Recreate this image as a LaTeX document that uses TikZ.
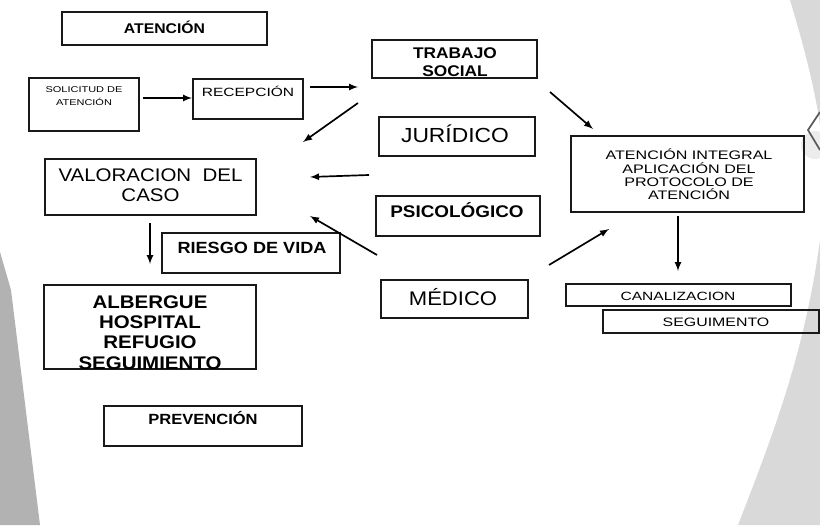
\documentclass[tikz,border=0pt]{standalone}
\usepackage{fontspec}
\setmainfont{Liberation Sans}[FakeStretch=1.12]
\newfontfamily\widefont{Liberation Sans}[FakeStretch=1.3]
\begin{document}
\begin{tikzpicture}[x=0.025cm,y=-0.025cm,
	box/.style={draw=black!90,line width=1.1pt,inner sep=0pt},
	arr/.style={->,>=latex,line width=1.2pt},
	txt/.style={align=center,inner sep=0pt}]
	\useasboundingbox (0,0) rectangle (820,525);
	\fill[gray!60] (0,252) -- (11,290) -- (40,525) -- (0,525) -- cycle;
	\fill[gray!30] (790,0) .. controls (805,50) and (815,90) .. (820,125) -- (820,0) -- cycle;
	\fill[gray!15] (815,145) ellipse (14 and 14);
	\draw[gray!70!black,line width=1.2pt] (820,112) -- (808,130) -- (820,150);
	\fill[gray!30] (820,240) .. controls (805,350) and (775,430) .. (738,525) -- (820,525) -- cycle;
	\node[box,minimum width=5.125cm,minimum height=0.825cm] (aten) at (164.5,28.5) {};
	\node[txt,font=\bfseries\fontsize{10}{12}\selectfont] (atenT) at (164.5,27) {ATENCIÓN};
	\node[box,minimum width=2.75cm,minimum height=1.325cm] (sol) at (84,104.5) {};
	\node[txt,font=\widefont\fontsize{6}{9}\selectfont] (solT) at (84,96) {SOLICITUD DE\\ATENCIÓN};
	\node[box,minimum width=2.75cm,minimum height=1cm] (rec) at (248,99) {};
	\node[txt,font=\widefont\fontsize{8.5}{11}\selectfont] (recT) at (248,91) {RECEPCIÓN};
	\node[box,minimum width=4.125cm,minimum height=0.95cm] (trab) at (454.5,59) {};
	\node[txt,font=\bfseries\fontsize{11}{12.8}\selectfont] (trabT) at (455,62) {TRABAJO\\SOCIAL};
	\node[box,minimum width=3.9cm,minimum height=0.975cm] (jur) at (457,136.5) {};
	\node[txt,font=\fontsize{14.5}{16}\selectfont] (jurT) at (455,134) {JURÍDICO};
	\node[box,minimum width=5.275cm,minimum height=1.4cm] (val) at (150.5,187) {};
	\node[txt,font=\fontsize{13}{14.2}\selectfont] (valT) at (150.5,185) {VALORACION\ \ DEL\\CASO};
	\node[box,minimum width=4.1cm,minimum height=1cm] (psi) at (458,216) {};
	\node[txt,font=\bfseries\fontsize{12}{14}\selectfont] (psiT) at (457,210) {PSICOLÓGICO};
	\node[box,minimum width=4.45cm,minimum height=1cm] (rie) at (251,253) {};
	\node[txt,font=\bfseries\fontsize{11.5}{13}\selectfont] (rieT) at (252,248) {RIESGO DE VIDA};
	\node[box,minimum width=3.675cm,minimum height=0.95cm] (med) at (454.5,299) {};
	\node[txt,font=\fontsize{14}{15}\selectfont] (medT) at (453,297) {MÉDICO};
	\node[box,minimum width=5.3cm,minimum height=2.1cm] (alb) at (150,327) {};
	\node[txt,font=\bfseries\fontsize{13}{14.4}\selectfont] (albT) at (150,332.5) {ALBERGUE\\HOSPITAL\\REFUGIO\\SEGUIMIENTO};
	\node[box,minimum width=4.95cm,minimum height=1cm] (prev) at (203,426) {};
	\node[txt,font=\bfseries\fontsize{10.5}{12}\selectfont] (prevT) at (203,418) {PREVENCIÓN};
	\node[box,minimum width=5.825cm,minimum height=1.9cm] (integ) at (687.5,174) {};
	\node[txt,font=\widefont\fontsize{8.8}{9.5}\selectfont] (integT) at (689,174.5) {ATENCIÓN INTEGRAL\\APLICACIÓN DEL\\PROTOCOLO DE\\ATENCIÓN};
	\node[box,minimum width=5.625cm,minimum height=0.55cm] (canal) at (678.5,295) {};
	\node[txt,font=\widefont\fontsize{8.5}{11}\selectfont] (canalT) at (678,296) {CANALIZACION};
	\node[box,minimum width=5.4cm,minimum height=0.575cm] (seg) at (711,321.5) {};
	\node[txt,font=\widefont\fontsize{8.7}{11}\selectfont] (segT) at (716,322) {SEGUIMENTO};
	\coordinate (solOut) at (143,98);
	\coordinate (recIn) at (192,98);
	\coordinate (recOut) at (310,87);
	\coordinate (trabIn) at (358,87);
	\coordinate (trabOut) at (358,103);
	\coordinate (valInA) at (303,142);
	\coordinate (jurOut) at (369,175);
	\coordinate (valInB) at (310,177);
	\coordinate (medOutA) at (377,255);
	\coordinate (valInC) at (310,216);
	\coordinate (valOut) at (150,223);
	\coordinate (albIn) at (150,264);
	\coordinate (trabOutB) at (550,92);
	\coordinate (integInA) at (593,129);
	\coordinate (medOutB) at (549,265);
	\coordinate (integInB) at (609,229);
	\coordinate (integOut) at (678,216);
	\coordinate (canalIn) at (678,271);
	\draw[arr] (solOut) -- (recIn);
	\draw[arr] (recOut) -- (trabIn);
	\draw[arr] (trabOut) -- (valInA);
	\draw[arr] (jurOut) -- (valInB);
	\draw[arr] (medOutA) -- (valInC);
	\draw[arr] (valOut) -- (albIn);
	\draw[arr] (trabOutB) -- (integInA);
	\draw[arr] (medOutB) -- (integInB);
	\draw[arr] (integOut) -- (canalIn);
\end{tikzpicture}
\end{document}
